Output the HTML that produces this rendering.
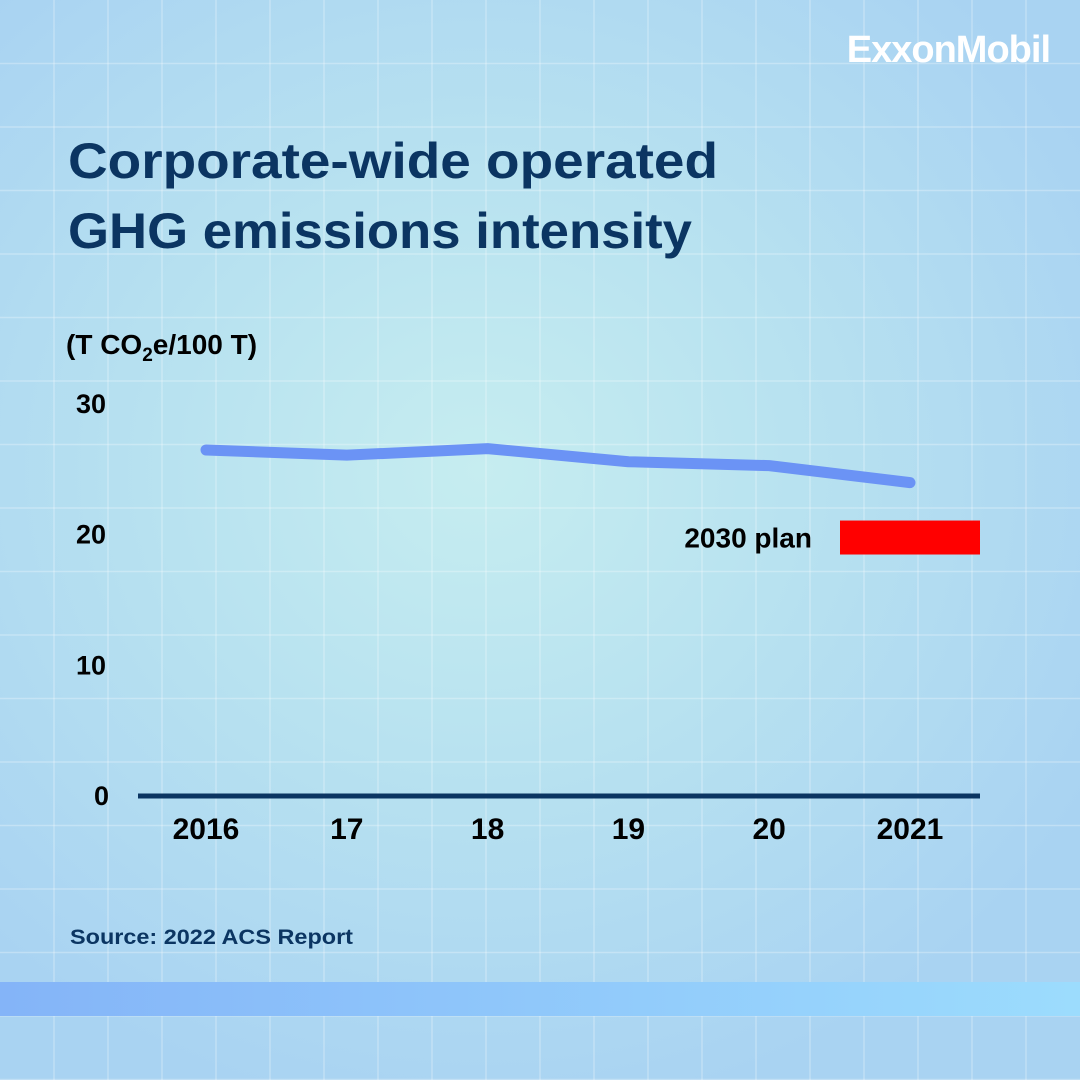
<!DOCTYPE html>
<html><head><meta charset="utf-8"><style>
html,body{margin:0;padding:0}
body{width:1080px;height:1080px;position:relative;overflow:hidden;font-family:"Liberation Sans",sans-serif;
background:radial-gradient(ellipse 700px 650px at 480px 470px,#c6edf0 0%,#b8e2f0 45%,#a9d3f2 100%);}
</style></head><body>
<svg width="1080" height="1080" style="position:absolute;left:0;top:0">
<g id="grid" stroke="#ffffff" stroke-opacity="0.28" stroke-width="1.5"></g>
<rect x="0" y="982" width="1080" height="34" fill="url(#band)"/>
<defs><linearGradient id="band" x1="0" x2="1"><stop offset="0" stop-color="#84b4f8"/><stop offset="1" stop-color="#9cdcfd"/></linearGradient></defs>
<g id="plot"></g>
<text x="1050" y="62" text-anchor="end" fill="#fff" font-family="Liberation Sans" font-weight="bold" font-size="38" letter-spacing="-1">ExxonMobil</text>
<text x="68" y="178" fill="#0b3562" font-weight="bold" font-size="50" textLength="650" lengthAdjust="spacingAndGlyphs">Corporate-wide operated</text>
<text x="68" y="248" fill="#0b3562" font-weight="bold" font-size="50" textLength="624" lengthAdjust="spacingAndGlyphs">GHG emissions intensity</text>
<text x="66" y="354" fill="#000" font-size="28" font-weight="bold">(T CO<tspan font-size="19" dy="7">2</tspan><tspan dy="-7">e/100 T)</tspan></text>
<text x="70" y="944" fill="#0b3562" font-weight="bold" font-size="21" textLength="283" lengthAdjust="spacingAndGlyphs">Source: 2022 ACS Report</text>
</svg>
<script>
const categories=["2016","17","18","19","20","2021"];
const values=[26.4,26.0,26.5,25.5,25.2,23.9];
const yTicks=[0,10,20,30];
const planLow=[18.4];
const planHigh=[21.0];
const NS="http://www.w3.org/2000/svg";
const y0=795, yScale=13.07;
function yPos(v){return y0-v*yScale;}
function xPos(i){return 206+i*140.8;}
const grid=document.getElementById('grid');
for(let x=54;x<1080;x+=54){const l=document.createElementNS(NS,'line');l.setAttribute('x1',x);l.setAttribute('x2',x);l.setAttribute('y1',0);l.setAttribute('y2',1080);grid.appendChild(l);}
for(let y=63.5;y<1080;y+=63.5){const l=document.createElementNS(NS,'line');l.setAttribute('x1',0);l.setAttribute('x2',1080);l.setAttribute('y1',y);l.setAttribute('y2',y);grid.appendChild(l);}
const plot=document.getElementById('plot');
function mk(tag,attrs){const e=document.createElementNS(NS,tag);for(const k in attrs)e.setAttribute(k,attrs[k]);plot.appendChild(e);return e;}
yTicks.forEach(v=>{const t=mk('text',{x:v===0?94:76,y:yPos(v)+10,'font-size':27,'font-weight':'bold',fill:'#000'});t.textContent=v;

});
const ax=mk('line',{x1:138,x2:980,y1:y0+1,y2:y0+1,stroke:'#0b3562','stroke-width':5});


categories.forEach((c,i)=>{const t=mk('text',{x:xPos(i),y:839,'font-size':30,'font-weight':'bold',fill:'#000','text-anchor':'middle'});t.textContent=c;

});
const pl=mk('polyline',{points:values.map((v,i)=>xPos(i)+','+yPos(v)).join(' '),fill:'none',stroke:'#6b93f5','stroke-width':11,'stroke-linecap':'round','stroke-linejoin':'round'});


const r=mk('rect',{x:840,width:140,y:yPos(planHigh[0]),height:yPos(planLow[0])-yPos(planHigh[0]),fill:'#ff0000'});


const pt=mk('text',{x:812,y:(yPos(planHigh[0])+yPos(planLow[0]))/2+10,'text-anchor':'end','font-size':28,'font-weight':'bold',fill:'#000'});pt.textContent='2030 plan';


</script>
</body></html>
